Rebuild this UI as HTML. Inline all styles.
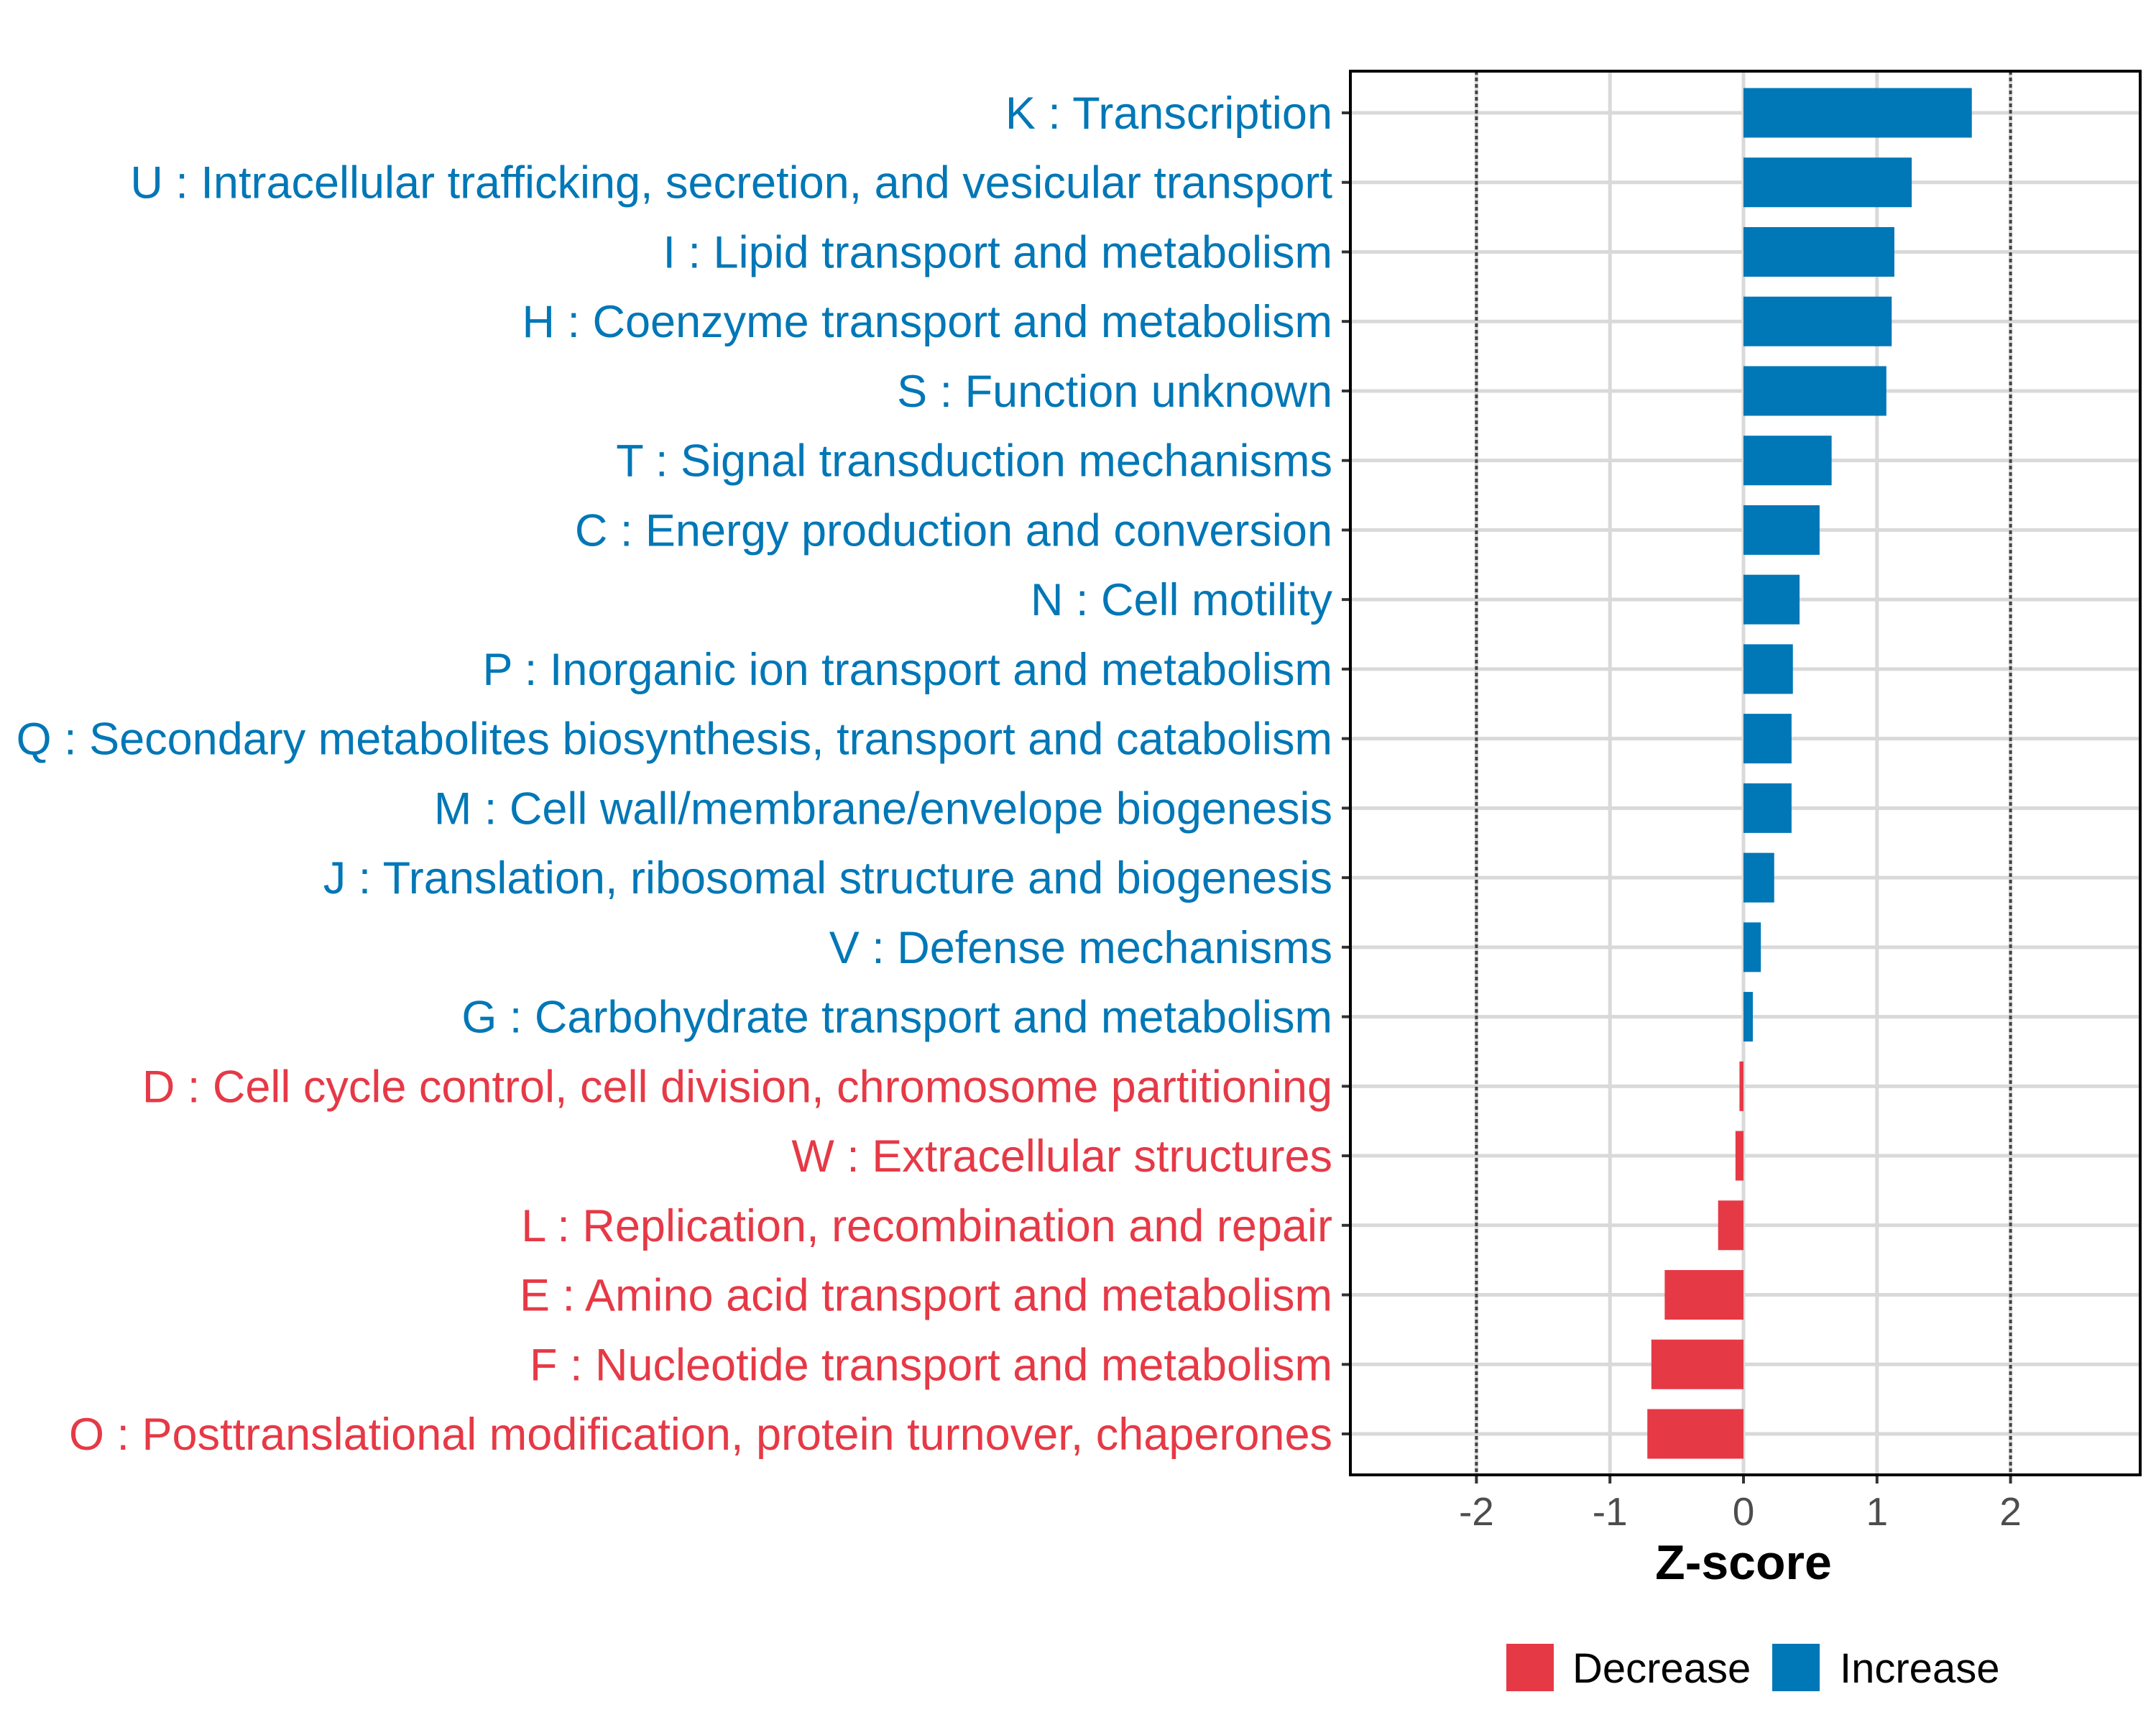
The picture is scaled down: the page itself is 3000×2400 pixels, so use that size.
<!DOCTYPE html>
<html><head><meta charset="utf-8"><style>
html,body{margin:0;padding:0;background:#fff;}
svg{display:block;font-family:"Liberation Sans",Arial,sans-serif;}
</style></head><body>
<svg id="chart" width="3000" height="2400" viewBox="0 0 3000 2400" xmlns="http://www.w3.org/2000/svg">
<rect width="3000" height="2400" fill="#fff"/>
<g id="grid"></g><g id="bars"></g><g id="labels"></g><g id="axis"></g>
<rect x="1879" y="99" width="1099" height="1953" fill="none" stroke="#000" stroke-width="4"/>
<text x="2426" y="2197" text-anchor="middle" font-size="68" font-weight="bold" fill="#000">Z-score</text>
<g>
<rect x="2096" y="2287" width="66" height="66" fill="#e63946"/>
<text x="2188" y="2341" font-size="58" fill="#000">Decrease</text>
<rect x="2466" y="2287" width="66" height="66" fill="#0077b6"/>
<text x="2560" y="2341" font-size="58" fill="#000">Increase</text>
</g>
</svg>
<script>
const categories = ["K : Transcription","U : Intracellular trafficking, secretion, and vesicular transport","I : Lipid transport and metabolism","H : Coenzyme transport and metabolism","S : Function unknown","T : Signal transduction mechanisms","C : Energy production and conversion","N : Cell motility","P : Inorganic ion transport and metabolism","Q : Secondary metabolites biosynthesis, transport and catabolism","M : Cell wall/membrane/envelope biogenesis","J : Translation, ribosomal structure and biogenesis","V : Defense mechanisms","G : Carbohydrate transport and metabolism","D : Cell cycle control, cell division, chromosome partitioning","W : Extracellular structures","L : Replication, recombination and repair","E : Amino acid transport and metabolism","F : Nucleotide transport and metabolism","O : Posttranslational modification, protein turnover, chaperones"];
const zscores = [1.71,1.26,1.13,1.11,1.07,0.66,0.57,0.42,0.37,0.36,0.36,0.23,0.13,0.07,-0.03,-0.06,-0.19,-0.59,-0.69,-0.72];
const xTicks = [-2,-1,0,1,2];
const xTickLabels = ["-2","-1","0","1","2"];
const thresholds = [-2,2];

const NS="http://www.w3.org/2000/svg";
const PL=1879,PR=2978,PT=99,PB=2052;
const xMin=-2.944,xMax=2.971;
function x(v){return PL+(v-xMin)/(xMax-xMin)*(PR-PL);}
const rowTop=157,rowBot=1995;
function y(i){return rowTop+i*(rowBot-rowTop)/(categories.length-1);}
function mk(tag,attrs,parent){const e=document.createElementNS(NS,tag);for(const k in attrs)e.setAttribute(k,attrs[k]);parent.appendChild(e);return e;}
const grid=document.getElementById('grid'),bars=document.getElementById('bars'),labels=document.getElementById('labels'),axis=document.getElementById('axis');
xTicks.forEach((t,i)=>{
  const g=mk('line',{x1:x(t),x2:x(t),y1:PT,y2:PB,stroke:'#d9d9d9','stroke-width':5},grid);
  
  
  const tk=mk('line',{x1:x(t),x2:x(t),y1:PB,y2:PB+12,stroke:'#333','stroke-width':4},axis);
  
  
  const tl=mk('text',{x:x(t),y:2122,'text-anchor':'middle','font-size':55,fill:'#4d4d4d'},axis);
  tl.textContent=xTickLabels[i];
  
  
});
categories.forEach((c,i)=>{
  const g=mk('line',{x1:PL,x2:PR,y1:y(i),y2:y(i),stroke:'#d9d9d9','stroke-width':5},grid);
  
  
});
thresholds.forEach(t=>{
  const d=mk('line',{x1:x(t),x2:x(t),y1:PT,y2:PB,stroke:'#444','stroke-width':4,'stroke-dasharray':'5 4'},grid);
  
  
});
const bh=69;
categories.forEach((c,i)=>{
  const v=zscores[i];
  const col=v>=0?'#0077b6':'#e63946';
  const r=mk('rect',{x:Math.min(x(0),x(v)),y:y(i)-bh/2,width:Math.abs(x(v)-x(0)),height:bh,fill:col},bars);
  
  
  const tk=mk('line',{x1:PL-12,x2:PL,y1:y(i),y2:y(i),stroke:'#333','stroke-width':4},axis);
  
  
  const t=mk('text',{x:1854,y:y(i)+22,'text-anchor':'end','font-size':63,fill:col},labels);
  t.textContent=c;
  
  
});
</script>
</body></html>
